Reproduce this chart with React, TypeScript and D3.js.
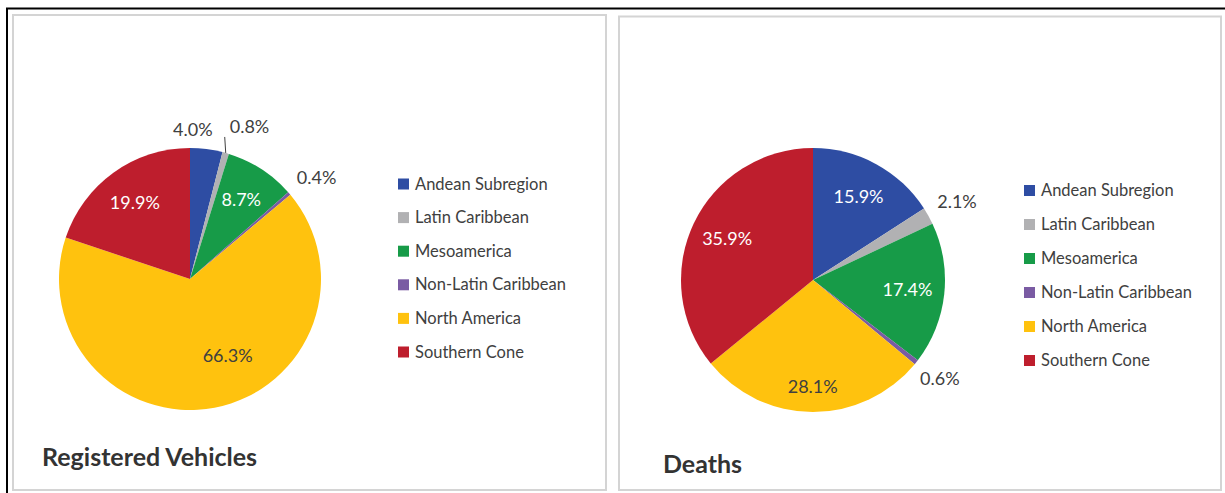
import React from "react";
import * as d3 from "d3";

const categories = [
  "Andean Subregion",
  "Latin Caribbean",
  "Mesoamerica",
  "Non-Latin Caribbean",
  "North America",
  "Southern Cone",
];
const vehiclesValues = [4.0, 0.8, 8.7, 0.4, 66.3, 19.9];
const deathsValues = [15.9, 2.1, 17.4, 0.6, 28.1, 35.9];
const chartTitles = ["Registered Vehicles", "Deaths"];

const colors = ["#2E4DA3", "#B1B1B3", "#179B48", "#7A5BA3", "#FFC20E", "#BE1E2D"];

const FONT = "Lato, 'Open Sans', sans-serif";

type Special = { anchor?: string; leader?: boolean; dx?: number; dy?: number };

type PieProps = {
  values: number[];
  title: string;
  cx: number;
  cy: number;
  r: number;
  legendX: number;
  legendY: number;
  legendStep: number;
  titleX: number;
  titleY: number;
  titleSize: number;
  special: Record<number, Special>;
};

function PieChart(p: PieProps) {
  const pie = d3
    .pie<number>()
    .sort(null)
    .value((d) => d)
    .startAngle(0)
    .endAngle(2 * Math.PI);
  const arcs = pie(p.values);
  const arc = d3.arc<d3.PieArcDatum<number>>().innerRadius(0).outerRadius(p.r);
  const legendY = d3
    .scalePoint<string>()
    .domain(categories)
    .range([p.legendY, p.legendY + p.legendStep * (categories.length - 1)]);

  return (
    <g>
      <g transform={`translate(${p.cx},${p.cy})`}>
        {arcs.map((a, i) => (
          <path key={i} d={arc(a) || ""} fill={colors[i]} />
        ))}
        {arcs.map((a, i) => {
          const mid = (a.startAngle + a.endAngle) / 2;
          const s = Math.sin(mid);
          const c = -Math.cos(mid);
          const txt = a.data.toFixed(1) + "%";
          const sp = p.special[i] || {};
          if (a.data >= 5) {
            const rho = p.r * 0.72;
            return (
              <text
                key={"l" + i}
                x={s * rho + (sp.dx || 0)}
                y={c * rho + 6 + (sp.dy || 0)}
                textAnchor="middle"
                fontSize={18}
                fontFamily={FONT}
                fill={i === 4 ? "#404040" : "#ffffff"}
              >
                {txt}
              </text>
            );
          }
          if (sp.leader) {
            const ex = s * p.r;
            const ey = c * p.r;
            return (
              <g key={"l" + i}>
                <line x1={ex} y1={ey} x2={ex - 1} y2={ey - 16} stroke="#404040" strokeWidth={1} />
                <text x={ex + 4} y={ey - 20} fontSize={18} fontFamily={FONT} fill="#404040">
                  {txt}
                </text>
              </g>
            );
          }
          const rho = p.r + 10;
          const px = s * rho;
          const py = c * rho;
          const upper = c < 0;
          const anchor = sp.anchor || "start";
          return (
            <text
              key={"l" + i}
              x={anchor === "end" ? px + 5 : upper ? px : px - 4}
              y={upper ? py - 3 : py + 17}
              textAnchor={anchor}
              fontSize={18}
              fontFamily={FONT}
              fill="#404040"
            >
              {txt}
            </text>
          );
        })}
      </g>
      {categories.map((cat, i) => (
        <g key={"lg" + i} transform={`translate(${p.legendX},${legendY(cat)})`}>
          <rect x={0} y={-5.5} width={11} height={11} fill={colors[i]} />
          <text x={17} y={5.5} fontSize={16.5} fontFamily={FONT} fill="#404040">
            {cat}
          </text>
        </g>
      ))}
      <text
        x={p.titleX}
        y={p.titleY}
        fontSize={p.titleSize}
        fontWeight="bold"
        fontFamily={FONT}
        fill="#333333"
      >
        {p.title}
      </text>
    </g>
  );
}

export default function App() {
  return (
    <svg
      width={1225}
      height={493}
      style={{ position: "absolute", left: 0, top: 0, background: "#ffffff" }}
    >
      <rect x={0} y={0} width={1225} height={493} fill="#ffffff" />
      <line x1={6} y1={8.5} x2={1225} y2={8.5} stroke="#000" strokeWidth={2} />
      <line x1={7} y1={8} x2={7} y2={493} stroke="#000" strokeWidth={2} />
      <rect x={13} y={15} width={593} height={475} fill="none" stroke="#d4d4d4" strokeWidth={2} />
      <rect x={619} y={16.5} width={602} height={473.5} fill="none" stroke="#d4d4d4" strokeWidth={2} />
      <PieChart
        values={vehiclesValues}
        title={chartTitles[0]}
        cx={190}
        cy={279}
        r={131}
        legendX={398}
        legendY={184}
        legendStep={33.6}
        titleX={42}
        titleY={466}
        titleSize={25}
        special={{ 0: { anchor: "end" }, 1: { leader: true }, 4: { dx: 20, dy: -16 } }}
      />
      <PieChart
        values={deathsValues}
        title={chartTitles[1]}
        cx={813}
        cy={280}
        r={132}
        legendX={1024}
        legendY={190.5}
        legendStep={34}
        titleX={663}
        titleY={473}
        titleSize={25}
        special={{ 4: { dy: 12 } }}
      />
    </svg>
  );
}
